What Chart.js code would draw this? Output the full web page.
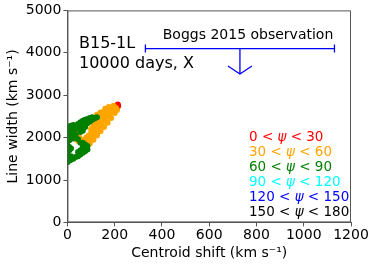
<!DOCTYPE html>
<html>
<head>
<meta charset="utf-8">
<script src="https://cdn.jsdelivr.net/npm/chart.js@4"></script>
<style>
  html, body { margin: 0; padding: 0; background: #fff; }
  #wrap { width: 374px; height: 266px; }
</style>
</head>
<body>
<div id="wrap"><canvas id="chart" width="374" height="266"></canvas></div>
<script>
// centroid shift / line width points, per viewing-angle bin
const redPoints = [[200,2720],[205,2740],[210,2760],[213,2780],[215,2750],[208,2700],[212,2720]];
const orangePoints = [
  [80,1800],[95,1860],[110,1950],[125,2050],[140,2150],[155,2250],[170,2350],[185,2460],[200,2580],[210,2650],
  [90,1950],[100,2050],[115,2100],[130,2200],[145,2300],[160,2400],[175,2500],[190,2600],[205,2700],
  [100,2200],[110,2300],[120,2400],[130,2500],[140,2550],[150,2600],[165,2650],[180,2700],[195,2750],
  [105,2150],[120,2250],[135,2350],[150,2450],[165,2550],[180,2600],[195,2680],[125,2320],[140,2420],
  [155,2520],[170,2600],[185,2660],[125,2540],[140,2590],[160,2680],[175,2720],
  [70,1950],[80,2000],[90,2050],[85,1900],[95,2000],[100,2100],[110,2180],
  [30,1980],[40,2050],[50,2000],[35,2120],[45,1920]
];
const greenPoints = [
  [0,1420],[0,1500],[0,1580],[0,1660],[0,1740],[0,1820],[0,1900],[0,1980],[0,2060],[0,2140],[0,2220],
  [8,1460],[8,1540],[8,1700],[8,1780],[8,1940],[8,2020],[8,2100],[8,2180],[8,2260],
  [15,1480],[15,1560],[15,1740],[15,2060],[15,2200],[15,2280],
  [25,1500],[25,1980],[25,2140],[25,2300],
  [35,1540],[35,2060],[35,2280],[35,2200],
  [45,1560],[45,1660],[45,1960],[45,2320],
  [55,1600],[55,1700],[55,1880],[55,2130],[55,2360],[55,2240],
  [65,1640],[65,1780],[65,1880],[65,2160],[65,2400],[65,2300],
  [75,1680],[75,1760],[75,1840],[75,2250],[75,2420],
  [85,1720],[85,1800],[85,2340],[85,2440],
  [95,2380],[95,2460],[105,2420],[105,2480],[115,2450],[125,2480]
];

const xTicks = [0, 200, 400, 600, 800, 1000, 1200];
const yTicks = [0, 1000, 2000, 3000, 4000, 5000];

// Boggs 2015 observation: range in centroid shift, and upper limit in line width
const obsRange = [330, 1130];
const obsWidth = 4100;
const obsCenter = 730;
const obsArrowTip = 3500;

const binLabels = [
  ['0 < ', ' < 30'], ['30 < ', ' < 60'], ['60 < ', ' < 90'],
  ['90 < ', ' < 120'], ['120 < ', ' < 150'], ['150 < ', ' < 180']
];
const binColors = ['#ff0000', '#ffa500', '#008000', '#00ffff', '#0000ff', '#000000'];

const FONT = '"DejaVu Sans", sans-serif';

function toXY(arr) {
  return arr.map(p => ({ x: p[0], y: p[1] }));
}

const overlay = {
  id: 'overlay',
  afterDraw(chart) {
    const ctx = chart.ctx;
    const a = chart.chartArea;
    const xs = chart.scales.x, ys = chart.scales.y;
    ctx.save();

    // frame
    ctx.strokeStyle = '#555';
    ctx.lineWidth = 1;
    ctx.strokeRect(a.left + 0.5, a.top + 0.5, a.right - a.left - 1, a.bottom - a.top - 1);

    // observation marker
    const x1 = xs.getPixelForValue(obsRange[0]);
    const x2 = xs.getPixelForValue(obsRange[1]);
    const xc = xs.getPixelForValue(obsCenter);
    const yo = ys.getPixelForValue(obsWidth);
    const yt = ys.getPixelForValue(obsArrowTip);
    ctx.strokeStyle = '#0000ff';
    ctx.lineWidth = 1.3;
    ctx.beginPath();
    ctx.moveTo(x1, yo); ctx.lineTo(x2, yo);
    ctx.moveTo(x1, yo - 4); ctx.lineTo(x1, yo + 4);
    ctx.moveTo(x2, yo - 4); ctx.lineTo(x2, yo + 4);
    ctx.moveTo(xc, yo); ctx.lineTo(xc, yt);
    ctx.moveTo(xc - 12, yt - 8); ctx.lineTo(xc, yt); ctx.lineTo(xc + 12, yt - 8);
    ctx.stroke();

    ctx.fillStyle = '#000';
    ctx.textBaseline = 'middle';
    ctx.font = '14px ' + FONT;
    ctx.textAlign = 'center';
    ctx.fillText('Boggs 2015 observation', 248, 35);
    ctx.textAlign = 'left';
    ctx.font = '16px ' + FONT;
    ctx.fillText('B15-1L', 79, 44);
    ctx.fillText('10000 days, X', 79, 64);

    // angle bin labels
    binLabels.forEach((lab, i) => {
      const y = 137 + i * 15;
      let x = 249;
      ctx.fillStyle = binColors[i];
      ctx.font = '13.5px ' + FONT;
      ctx.fillText(lab[0], x, y);
      x += ctx.measureText(lab[0]).width;
      ctx.font = 'italic 13.5px ' + FONT;
      ctx.fillText('\u03c8', x, y);
      x += ctx.measureText('\u03c8').width;
      ctx.font = '13.5px ' + FONT;
      ctx.fillText(lab[1], x, y);
    });
    ctx.restore();
  }
};

const pt = { pointRadius: 3, pointHoverRadius: 3, pointBorderWidth: 0, showLine: false };

new Chart(document.getElementById('chart'), {
  type: 'scatter',
  data: {
    datasets: [
      Object.assign({ label: '0-30', data: toXY(redPoints), backgroundColor: '#ff0000', order: 3 }, pt),
      Object.assign({ label: '30-60', data: toXY(orangePoints), backgroundColor: '#ffa500', order: 2 }, pt),
      Object.assign({ label: '60-90', data: toXY(greenPoints), backgroundColor: '#008000', order: 1 }, pt)
    ]
  },
  options: {
    responsive: false,
    animation: false,
    events: [],
    layout: { padding: { left: 5, right: 23, top: 2, bottom: 4 } },
    plugins: { legend: { display: false }, tooltip: { enabled: false } },
    scales: {
      x: {
        type: 'linear', min: 0, max: 1200,
        afterBuildTicks: s => { s.ticks = xTicks.map(v => ({ value: v })); },
        ticks: { color: '#000', font: { family: FONT, size: 14 }, padding: 1, maxRotation: 0, callback: v => String(v) },
        grid: { drawOnChartArea: false, tickLength: 4, color: '#555' },
        border: { color: '#555' },
        title: { display: true, text: 'Centroid shift (km s\u207b\u00b9)', color: '#000', font: { family: FONT, size: 14 }, padding: { top: 0, bottom: 0 } }
      },
      y: {
        type: 'linear', min: 0, max: 5000,
        afterBuildTicks: s => { s.ticks = yTicks.map(v => ({ value: v })); },
        ticks: { color: '#000', font: { family: FONT, size: 14 }, padding: 2, callback: v => String(v) },
        grid: { drawOnChartArea: false, tickLength: 4, color: '#555' },
        border: { color: '#555' },
        title: { display: true, text: 'Line width (km s\u207b\u00b9)', color: '#000', font: { family: FONT, size: 14 }, padding: { top: 0, bottom: 2 } }
      }
    }
  },
  plugins: [overlay]
});
</script>
</body>
</html>
